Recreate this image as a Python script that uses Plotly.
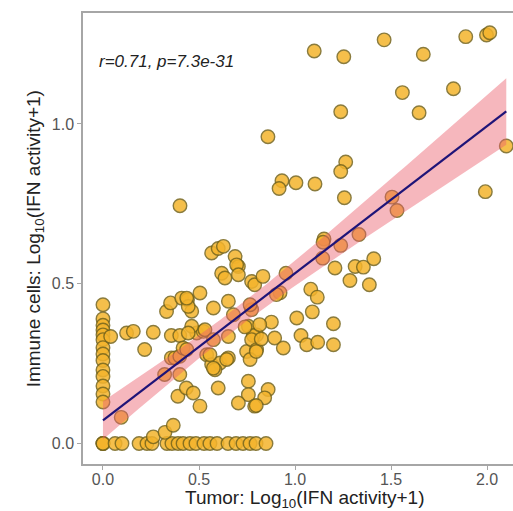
import numpy as np
import plotly.graph_objects as go

# Per-sample IFN activity, log10(x+1): tumour (x) vs immune cells (y)
tumor = [
    # immune activity of zero
    0, 0, 0, 0.063, 0.099, 0.188, 0.229, 0.255, 0.333, 0.359, 0.391, 0.417,
    0.453, 0.484, 0.526, 0.557, 0.594, 0.651, 0.693, 0.729, 0.766, 0.797, 0.849,
    0.262, 0.323, 0.366,
    # tumour activity of zero
    0, 0, 0, 0, 0, 0, 0, 0, 0, 0, 0, 0, 0, 0,
    0.040, 0.095,
    0.123, 0.158, 0.262, 0.356, 0.400, 0.217,
    0.331, 0.352, 0.410, 0.440, 0.401,
    0.356, 0.375, 0.400, 0.321, 0.417, 0.400, 0.390, 0.434, 0.470, 0.505, 0.436,
    0.540, 0.566, 0.609, 0.653, 0.583, 0.488, 0.522, 0.462, 0.444,
    0.505, 0.575, 0.653, 0.462, 0.444, 0.436,
    0.566, 0.600, 0.627, 0.688, 0.705, 0.618, 0.635, 0.696, 0.705, 0.774, 0.790,
    0.774, 0.679, 0.757, 0.800, 0.748, 0.757, 0.757, 0.705, 0.790, 0.600,
    0.531, 0.575, 0.653, 0.783, 0.740, 0.766,
    0.774, 0.800, 0.766, 0.644, 0.575, 0.557,
    0.860, 0.842, 0.798,
    0.833, 0.922, 0.903, 0.953, 0.877, 0.816, 0.824, 0.894, 0.798, 0.939,
    1.144, 1.082, 1.116, 1.090, 1.009, 1.200, 1.031, 1.061, 1.118, 1.200,
    1.208, 1.313, 1.356, 1.410, 1.286, 1.387,
    1.151, 1.146, 1.333, 1.238,
    1.505, 1.531, 1.991, 2.100,
    0.859, 1.264, 1.238, 0.932, 0.917, 1.005, 1.104, 1.257,
    1.238, 1.646, 1.559, 1.825,
    1.100, 1.254, 1.464, 1.668, 1.889, 1.997, 2.014,
]
immune = [
    0, 0, 0, 0, 0, 0, 0, 0, 0, 0, 0, 0,
    0, 0, 0, 0, 0, 0, 0, 0, 0, 0, 0,
    0.021, 0.035, 0.057,
    0.434, 0.390, 0.370, 0.355, 0.340, 0.325, 0.300, 0.280, 0.260, 0.230, 0.210, 0.180, 0.155, 0.130,
    0.335, 0.082,
    0.346, 0.351, 0.348, 0.338, 0.338, 0.294,
    0.413, 0.440, 0.455, 0.450, 0.744,
    0.268, 0.268, 0.273, 0.216, 0.299, 0.216, 0.148, 0.174, 0.158, 0.117, 0.294,
    0.278, 0.247, 0.252, 0.268, 0.231, 0.346, 0.351, 0.367, 0.346,
    0.471, 0.424, 0.445, 0.414, 0.429, 0.455,
    0.596, 0.610, 0.617, 0.585, 0.554, 0.533, 0.518, 0.559, 0.528, 0.507, 0.497,
    0.419, 0.403, 0.367, 0.340, 0.288, 0.195, 0.153, 0.127, 0.117, 0.174,
    0.356, 0.325, 0.335, 0.338, 0.365, 0.434,
    0.325, 0.294, 0.263, 0.263, 0.236, 0.278,
    0.169, 0.143, 0.119,
    0.523, 0.472, 0.466, 0.533, 0.380, 0.372, 0.327, 0.330, 0.288, 0.299,
    0.580, 0.483, 0.458, 0.412, 0.393, 0.375, 0.338, 0.309, 0.317, 0.309,
    0.549, 0.554, 0.552, 0.578, 0.510, 0.497,
    0.640, 0.630, 0.654, 0.620,
    0.771, 0.729, 0.788, 0.931,
    0.960, 0.881, 0.851, 0.822, 0.798, 0.816, 0.812, 0.769,
    1.038, 1.035, 1.098, 1.110,
    1.228, 1.210, 1.263, 1.218, 1.273, 1.278, 1.285,
]
stat_label = "r=0.71, p=7.3e-31"
x_ticks = [0.0, 0.5, 1.0, 1.5, 2.0]
y_ticks = [0.0, 0.5, 1.0]

x = np.array(tumor)
y = np.array(immune)

# Ordinary least squares fit with a 95% confidence band
n = len(x)
slope, intercept = np.polyfit(x, y, 1)
resid = y - (intercept + slope * x)
s = np.sqrt(np.sum(resid ** 2) / (n - 2))
x_mean = x.mean()
sxx = np.sum((x - x_mean) ** 2)
t_crit = 1.973
fit_x = np.linspace(x.min(), x.max(), 80)
fit_y = intercept + slope * fit_x
half = t_crit * s * np.sqrt(1.0 / n + (fit_x - x_mean) ** 2 / sxx)

fig = go.Figure()

fig.add_trace(go.Scatter(
    x=x, y=y, mode="markers",
    marker=dict(size=13.5, color="#F4B42C", opacity=0.85,
                line=dict(color="#76651C", width=1.4)),
    hoverinfo="skip", showlegend=False,
))

fig.add_trace(go.Scatter(
    x=np.concatenate([fit_x, fit_x[::-1]]),
    y=np.concatenate([fit_y + half, (fit_y - half)[::-1]]),
    mode="lines", fill="toself", fillcolor="rgba(236,96,108,0.45)",
    line=dict(width=0), hoverinfo="skip", showlegend=False,
))

fig.add_trace(go.Scatter(
    x=fit_x, y=fit_y, mode="lines",
    line=dict(color="#1E1478", width=2.2),
    hoverinfo="skip", showlegend=False,
))

axis_common = dict(
    showgrid=False, zeroline=False, showline=True,
    linecolor="#A6A6A6", linewidth=1.5,
    ticks="outside", ticklen=4, tickwidth=1.2, tickcolor="#A6A6A6",
    tickfont=dict(family="Liberation Sans, Arial, sans-serif", size=16, color="#555555"),
)

fig.update_xaxes(
    range=[-0.104, 2.135], tickvals=x_ticks,
    ticktext=[f"{v:.1f}" for v in x_ticks], mirror=True,
    ticklabelstandoff=-4, **axis_common,
)
fig.update_yaxes(
    range=[-0.064, 1.347], tickvals=y_ticks,
    ticktext=[f"{v:.1f}" for v in y_ticks], mirror=False, **axis_common,
)

title_font = dict(family="Liberation Sans, Arial, sans-serif", size=19, color="#222222")

fig.add_annotation(
    x=-0.031, y=1.194, xref="x", yref="y", text=stat_label,
    showarrow=False, xanchor="left", yanchor="middle",
    font=dict(family="Liberation Sans, Arial, sans-serif", size=17,
              color="#222222", style="italic"),
)

fig.add_annotation(
    x=(305 - 83) / 430, y=-0.077, xref="paper", yref="paper",
    text="Tumor: Log<sub>10</sub>(IFN activity+1)",
    showarrow=False, xanchor="center", yanchor="middle", font=title_font,
)
fig.add_annotation(
    x=-0.112, y=0.5, xref="paper", yref="paper",
    text="Immune cells: Log<sub>10</sub>(IFN activity+1)", textangle=-90,
    showarrow=False, xanchor="center", yanchor="middle", font=title_font,
)

fig.update_layout(
    width=513, height=511,
    margin=dict(l=83, r=0, t=13, b=47),
    plot_bgcolor="white", paper_bgcolor="white",
)

fig.write_html("out.html")
